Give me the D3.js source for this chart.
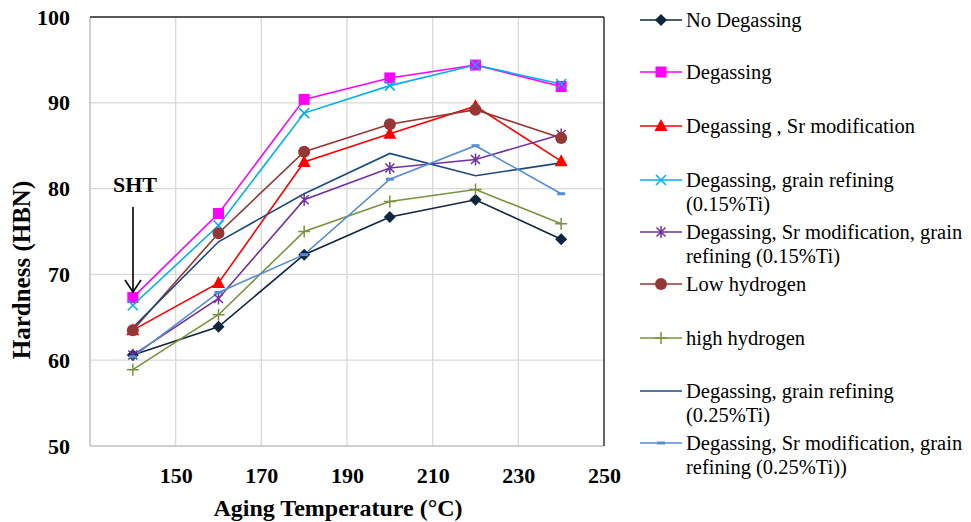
<!DOCTYPE html>
<html>
<head>
<meta charset="utf-8" />
<title>Hardness vs aging temperature</title>
<script src="https://d3js.org/d3.v7.min.js"></script>
<style>
  body { margin: 0; background: #fff; }
  svg text { font-family: 'Liberation Serif', 'Times New Roman', Times, serif !important; }
  .tick text { font-weight: bold; font-size: 22px; fill: #000; }
</style>
</head>
<body>
<svg id="chart" width="971" height="522"></svg>
<script>
// data
var temps = [140, 160, 180, 200, 220, 240];
var xTicks = [150, 170, 190, 210, 230, 250];
var yTicks = [50, 60, 70, 80, 90, 100];

var noDegassing   = [60.6, 63.9, 72.3, 76.7, 78.7, 74.1];
var degassing     = [67.3, 77.1, 90.4, 92.9, 94.4, 91.9];
var degSr         = [63.5, 69.0, 83.1, 86.4, 89.6, 83.2];
var degGr015      = [66.4, 75.7, 88.8, 92.0, 94.4, 92.2];
var degSrGr015    = [60.6, 67.2, 78.7, 82.4, 83.4, 86.3];
var lowHydrogen   = [63.5, 74.8, 84.3, 87.5, 89.2, 85.9];
var highHydrogen  = [58.9, 65.3, 75.0, 78.5, 79.9, 75.9];
var degGr025      = [63.8, 73.8, 79.4, 84.1, 81.5, 83.0];
var degSrGr025    = [60.4, 67.9, 72.3, 81.1, 85.0, 79.4];

var seriesNames = [
  "No Degassing",
  "Degassing",
  "Degassing , Sr modification",
  "Degassing, grain refining|(0.15%Ti)",
  "Degassing, Sr modification, grain|refining (0.15%Ti)",
  "Low hydrogen",
  "high hydrogen",
  "Degassing, grain refining|(0.25%Ti)",
  "Degassing, Sr modification, grain|refining (0.25%Ti))"
];
var seriesValues = [noDegassing, degassing, degSr, degGr015, degSrGr015,
                    lowHydrogen, highHydrogen, degGr025, degSrGr025];
var seriesColors = ["#10253f", "#ff00ff", "#ff0000", "#00b0f0", "#7030a0",
                    "#953735", "#77933c", "#1f497d", "#558ed5"];
var seriesMarkers = ["diamond", "square", "triangle", "x", "star",
                     "circle", "plus", "none", "dash"];

var serif = "'Liberation Serif', 'Times New Roman', Times, serif";

var margin = { top: 17, right: 367, bottom: 76, left: 90 };
var width = 971 - margin.left - margin.right,
    height = 522 - margin.top - margin.bottom;

var svg = d3.select("#chart");
var g = svg.append("g")
  .attr("transform", "translate(" + margin.left + "," + margin.top + ")");

var x = d3.scaleLinear().domain([130, 250]).range([0, width]);
var y = d3.scaleLinear().domain([50, 100]).range([height, 0]);

// gridlines
g.append("g").selectAll("line.hgrid")
  .data(yTicks.slice(1, -1)).enter().append("line")
  .attr("x1", 0).attr("x2", width)
  .attr("y1", function (d) { return y(d); })
  .attr("y2", function (d) { return y(d); })
  .style("stroke", "#d9d9d9").style("stroke-width", 1.3);
g.append("g").selectAll("line.vgrid")
  .data(xTicks.slice(0, -1)).enter().append("line")
  .attr("y1", 0).attr("y2", height)
  .attr("x1", function (d) { return x(d); })
  .attr("x2", function (d) { return x(d); })
  .style("stroke", "#d9d9d9").style("stroke-width", 1.3);

// plot border: grey left / bottom, dark top / right
g.append("line").attr("x1", 0).attr("x2", 0).attr("y1", 0).attr("y2", height)
  .style("stroke", "#bfbfbf").style("stroke-width", 1.5);
g.append("line").attr("x1", 0).attr("x2", width).attr("y1", height).attr("y2", height)
  .style("stroke", "#bfbfbf").style("stroke-width", 1.5);
g.append("line").attr("x1", 0).attr("x2", width).attr("y1", 0).attr("y2", 0)
  .style("stroke", "#222").style("stroke-width", 1.5);
g.append("line").attr("x1", width).attr("x2", width).attr("y1", 0).attr("y2", height)
  .style("stroke", "#333").style("stroke-width", 1.5);

// axes (labels only)
var yAxis = g.append("g").call(d3.axisLeft(y).tickValues(yTicks).tickSize(0).tickPadding(20));
yAxis.attr("font-family", serif);
yAxis.select(".domain").remove();
var xAxis = g.append("g").attr("transform", "translate(0," + height + ")")
  .call(d3.axisBottom(x).tickValues(xTicks).tickSize(0).tickPadding(21));
xAxis.attr("font-family", serif);
xAxis.select(".domain").remove();

// axis titles
svg.append("text")
  .attr("transform", "translate(30,270) rotate(-90)")
  .attr("text-anchor", "middle")
  .style("font-family", serif)
  .style("font-weight", "bold").style("font-size", "25px")
  .text("Hardness (HBN)");
svg.append("text")
  .attr("x", 338).attr("y", 516)
  .attr("text-anchor", "middle")
  .style("font-family", serif)
  .style("font-weight", "bold").style("font-size", "24px")
  .text("Aging Temperature (°C)");

// marker drawing
function drawMarker(sel, type, color) {
  if (type === "diamond") {
    sel.append("path").attr("d", "M0,-6L6,0L0,6L-6,0Z").style("fill", color);
  } else if (type === "square") {
    sel.append("rect").attr("x", -5.5).attr("y", -5.5).attr("width", 11).attr("height", 11)
      .style("fill", color);
  } else if (type === "triangle") {
    sel.append("path").attr("d", "M0,-7L6.5,5L-6.5,5Z").style("fill", color);
  } else if (type === "circle") {
    sel.append("circle").attr("r", 6).style("fill", color);
  } else if (type === "x") {
    sel.append("path").attr("d", "M-5,-5L5,5M-5,5L5,-5")
      .style("stroke", color).style("stroke-width", 1.5).style("fill", "none");
  } else if (type === "star") {
    sel.append("path").attr("d", "M-4.5,-4.5L4.5,4.5M-4.5,4.5L4.5,-4.5M0,-6L0,6")
      .style("stroke", color).style("stroke-width", 1.5).style("fill", "none");
  } else if (type === "plus") {
    sel.append("path").attr("d", "M-6,0L6,0M0,-6L0,6")
      .style("stroke", color).style("stroke-width", 1.5).style("fill", "none");
  } else if (type === "dash") {
    sel.append("rect").attr("x", -4).attr("y", -1.5).attr("width", 8).attr("height", 3)
      .style("fill", color);
  }
}

var line = d3.line()
  .x(function (d, i) { return x(temps[i]); })
  .y(function (d) { return y(d); });

seriesValues.forEach(function (vals, k) {
  g.append("path")
    .datum(vals)
    .attr("d", line)
    .style("fill", "none")
    .style("stroke", seriesColors[k])
    .style("stroke-width", 1.6);
});
seriesValues.forEach(function (vals, k) {
  var color = seriesColors[k];
  g.append("g").selectAll("g.pt")
    .data(vals).enter().append("g")
    .attr("transform", function (d, i) { return "translate(" + x(temps[i]) + "," + y(d) + ")"; })
    .each(function () { drawMarker(d3.select(this), seriesMarkers[k], color); });
});

// SHT annotation
svg.append("text")
  .attr("x", 135).attr("y", 192)
  .attr("text-anchor", "middle")
  .style("font-family", serif)
  .style("font-weight", "bold").style("font-size", "22px")
  .text("SHT");
svg.append("path")
  .attr("d", "M133,207L133,292M125,280L133,292L141,280")
  .style("stroke", "#000").style("stroke-width", 1.6).style("fill", "none");

// legend
var legendY = [20, 72, 126, 180, 232, 284, 338, 391, 443];
var legend = svg.append("g");
seriesNames.forEach(function (name, k) {
  var ly = legendY[k];
  var item = legend.append("g");
  item.append("line").attr("x1", 640).attr("x2", 682).attr("y1", ly).attr("y2", ly)
    .style("stroke", seriesColors[k]).style("stroke-width", 1.6);
  var m = item.append("g").attr("transform", "translate(661," + ly + ")");
  drawMarker(m, seriesMarkers[k], seriesColors[k]);
  var parts = name.split("|");
  var t = item.append("text").attr("x", 686).attr("y", ly + 6.5)
    .style("font-family", serif)
    .style("font-size", "20.5px").style("fill", "#000");
  parts.forEach(function (p, j) {
    t.append("tspan").attr("x", 686).attr("dy", j === 0 ? 0 : 24).text(p);
  });
});
</script>
</body>
</html>
